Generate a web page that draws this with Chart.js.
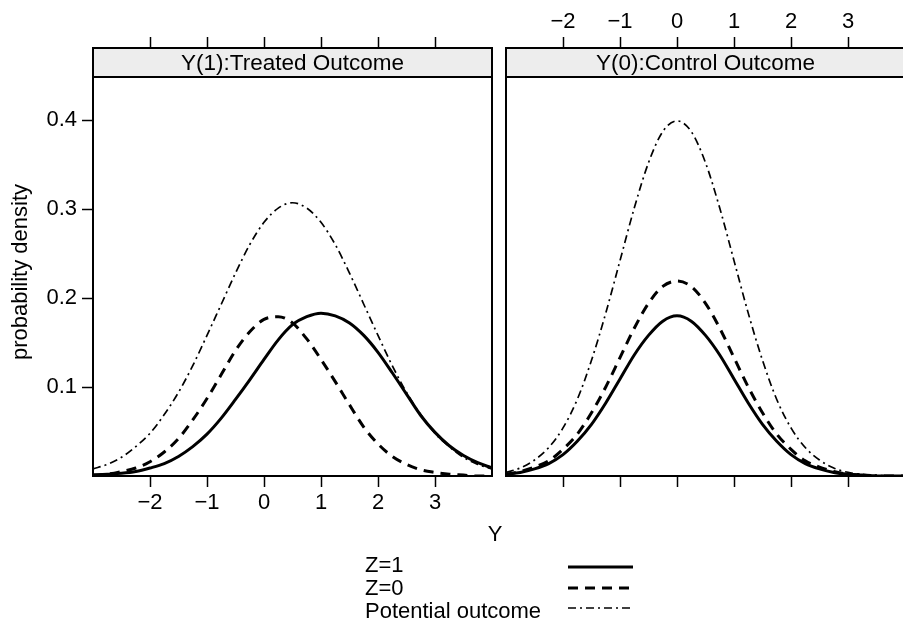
<!DOCTYPE html>
<html><head><meta charset="utf-8">
<script src="https://cdn.jsdelivr.net/npm/chart.js@4.4.1/dist/chart.umd.min.js"></script>
<style>
html,body{margin:0;padding:0;background:#fff;overflow:hidden;width:903px;height:624px}
#wrap{position:relative;width:903px;height:624px;overflow:hidden;background:#fff}
canvas{position:absolute;left:0;top:0}
</style></head><body>
<div id="wrap"><canvas id="cR" width="910" height="624"></canvas><canvas id="cL" width="497" height="624"></canvas></div>
<script>
// ---- data ----
const yValues = [-3,-2.75,-2.5,-2.25,-2,-1.75,-1.5,-1.25,-1,-0.75,-0.5,-0.25,0,0.25,0.5,0.75,1,1.25,1.5,1.75,2,2.25,2.5,2.75,3,3.25,3.5,3.75,4];
const treatedZ1 = [0.001,0.002,0.003,0.005,0.009,0.014,0.022,0.033,0.047,0.065,0.086,0.108,0.131,0.153,0.170,0.179,0.183,0.180,0.172,0.158,0.139,0.116,0.092,0.068,0.049,0.034,0.023,0.015,0.009];
const treatedZ0 = [0.001,0.002,0.005,0.009,0.016,0.027,0.042,0.063,0.087,0.114,0.141,0.162,0.176,0.179,0.172,0.154,0.131,0.106,0.080,0.055,0.036,0.022,0.013,0.007,0.004,0.002,0.001,0.000,0.000];
const treatedPotential = [0.008,0.013,0.021,0.033,0.048,0.069,0.094,0.124,0.158,0.193,0.228,0.260,0.285,0.301,0.307,0.301,0.285,0.260,0.228,0.193,0.158,0.124,0.094,0.069,0.048,0.033,0.021,0.013,0.008];
const controlZ1 = [0.002,0.004,0.008,0.014,0.024,0.039,0.058,0.082,0.109,0.136,0.158,0.174,0.180,0.174,0.158,0.136,0.109,0.082,0.058,0.039,0.024,0.014,0.008,0.004,0.002,0.001,0.000,0.000,0.000];
const controlZ0 = [0.002,0.005,0.010,0.017,0.030,0.047,0.071,0.100,0.133,0.166,0.194,0.213,0.219,0.213,0.194,0.166,0.133,0.100,0.071,0.047,0.030,0.017,0.010,0.005,0.002,0.001,0.000,0.000,0.000];
const controlPotential = [0.004,0.009,0.018,0.032,0.054,0.086,0.130,0.183,0.242,0.301,0.352,0.387,0.399,0.387,0.352,0.301,0.242,0.183,0.130,0.086,0.054,0.032,0.018,0.009,0.004,0.002,0.001,0.000,0.000];
const xTicks = [-2,-1,0,1,2,3];
const yTicks = [0.1,0.2,0.3,0.4];
const panelTitles = ['Y(1):Treated Outcome','Y(0):Control Outcome'];
const seriesNames = ['Z=1','Z=0','Potential outcome'];
const xTitle = 'Y';
const yTitle = 'probability density';

// ---- styling ----
const FONT = "'Liberation Sans', Arial, Helvetica, sans-serif";
Chart.defaults.font.family = FONT;
Chart.defaults.font.size = 22;
Chart.defaults.color = '#000';
const styles = [
  {borderWidth:3, borderDash:[]},
  {borderWidth:3, borderDash:[10,7]},
  {borderWidth:1.7, borderDash:[8,4,2,4]}
];
const Y_MAX = 0.4809;   // top of strip area
const STRIP_H = 29;

function makeDatasets(series){
  return series.map((vals,i)=>({
    label: seriesNames[i],
    data: yValues.map((x,j)=>({x:x, y:vals[j]})),
    borderColor:'#000', backgroundColor:'#000',
    borderWidth: styles[i].borderWidth, borderDash: styles[i].borderDash,
    pointRadius:0, fill:false, cubicInterpolationMode:'monotone',
    xAxisID:'x', yAxisID:'y'
  }));
}
function xAxis(pos, showLabels){
  return {
    type:'linear', position:pos, min:-3, max:4,
    afterBuildTicks: a => { a.ticks = xTicks.map(v=>({value:v})); },
    afterFit: a => { a.height = (pos==='top') ? 48 : 148; },
    grid:{drawOnChartArea:false, drawTicks:true, tickLength:11, tickWidth:1.5, tickColor:'#000'},
    border:{display:false},
    ticks:{padding:(pos==='top') ? 2 : 3, color:'#000', font:{size:22}, maxRotation:0, autoSkip:false,
      callback: v => showLabels ? String(v).replace('-','\u2212') : ''}
  };
}
function panelPlugin(title){
  return {
    id:'panel',
    beforeDatasetsDraw(chart){
      const a = chart.chartArea, c = chart.ctx;
      c.save();
      c.fillStyle = '#ededed';
      c.fillRect(a.left, a.top, a.right-a.left, STRIP_H);
      c.restore();
    },
    afterDatasetsDraw(chart){
      const a = chart.chartArea, c = chart.ctx;
      c.save();
      c.strokeStyle = '#000'; c.lineWidth = 2;
      c.strokeRect(a.left, a.top, a.right-a.left, a.bottom-a.top);
      c.beginPath(); c.moveTo(a.left, a.top+STRIP_H); c.lineTo(a.right, a.top+STRIP_H); c.stroke();
      c.fillStyle = '#000'; c.font = '22.5px ' + FONT;
      c.textAlign = 'center'; c.textBaseline = 'middle';
      c.fillText(title, (a.left+a.right)/2, a.top + STRIP_H/2 + 1);
      c.restore();
    }
  };
}
const decorPlugin = {
  id:'decor',
  afterDraw(chart){
    const c = chart.ctx;
    c.save();
    c.fillStyle = '#000'; c.font = '22px ' + FONT;
    // y title
    c.save(); c.translate(21, 272); c.rotate(-Math.PI/2);
    c.textAlign='center'; c.textBaseline='middle'; c.fillText(yTitle, 0, 0); c.restore();
    // x title
    c.textAlign='center'; c.textBaseline='middle';
    c.fillText(xTitle, 495, 535);
    // legend
    const rowsText = [566, 589, 612];
    const rowsLine = [567, 588, 608];
    seriesNames.forEach((n,i)=>{
      c.textAlign='left'; c.textBaseline='middle';
      c.fillText(n, 365, rowsText[i]);
      c.beginPath();
      c.strokeStyle='#000'; c.lineWidth = styles[i].borderWidth; c.setLineDash(styles[i].borderDash);
      c.moveTo(568, rowsLine[i]); c.lineTo(633, rowsLine[i]); c.stroke();
      c.setLineDash([]);
    });
    c.restore();
  }
};

const commonOpts = {
  responsive:false, animation:false, devicePixelRatio:1,
  plugins:{legend:{display:false}, tooltip:{enabled:false}},
  events:[]
};

new Chart(document.getElementById('cL'), {
  type:'line',
  data:{datasets: makeDatasets([treatedZ1, treatedZ0, treatedPotential])},
  options:Object.assign({}, commonOpts, {
    layout:{padding:{left:0,right:5,top:0,bottom:0}},
    scales:{
      x: xAxis('bottom', true),
      x2: xAxis('top', false),
      y:{type:'linear', position:'left', min:0, max:Y_MAX,
        afterBuildTicks: a => { a.ticks = yTicks.map(v=>({value:v})); },
        afterFit: a => { a.width = 93; },
        grid:{drawOnChartArea:false, drawTicks:true, tickLength:11, tickWidth:1.5, tickColor:'#000'},
        border:{display:false},
        ticks:{padding:5, color:'#000', font:{size:22}, callback: v => Number(v).toFixed(1)}}
    }
  }),
  plugins:[panelPlugin(panelTitles[0])]
});

new Chart(document.getElementById('cR'), {
  type:'line',
  data:{datasets: makeDatasets([controlZ1, controlZ0, controlPotential])},
  options:Object.assign({}, commonOpts, {
    layout:{padding:{left:506,right:5,top:0,bottom:0}},
    scales:{
      x: xAxis('bottom', false),
      x2: xAxis('top', true),
      y:{type:'linear', position:'left', min:0, max:Y_MAX, display:false}
    }
  }),
  plugins:[panelPlugin(panelTitles[1]), decorPlugin]
});
</script>
</body></html>
